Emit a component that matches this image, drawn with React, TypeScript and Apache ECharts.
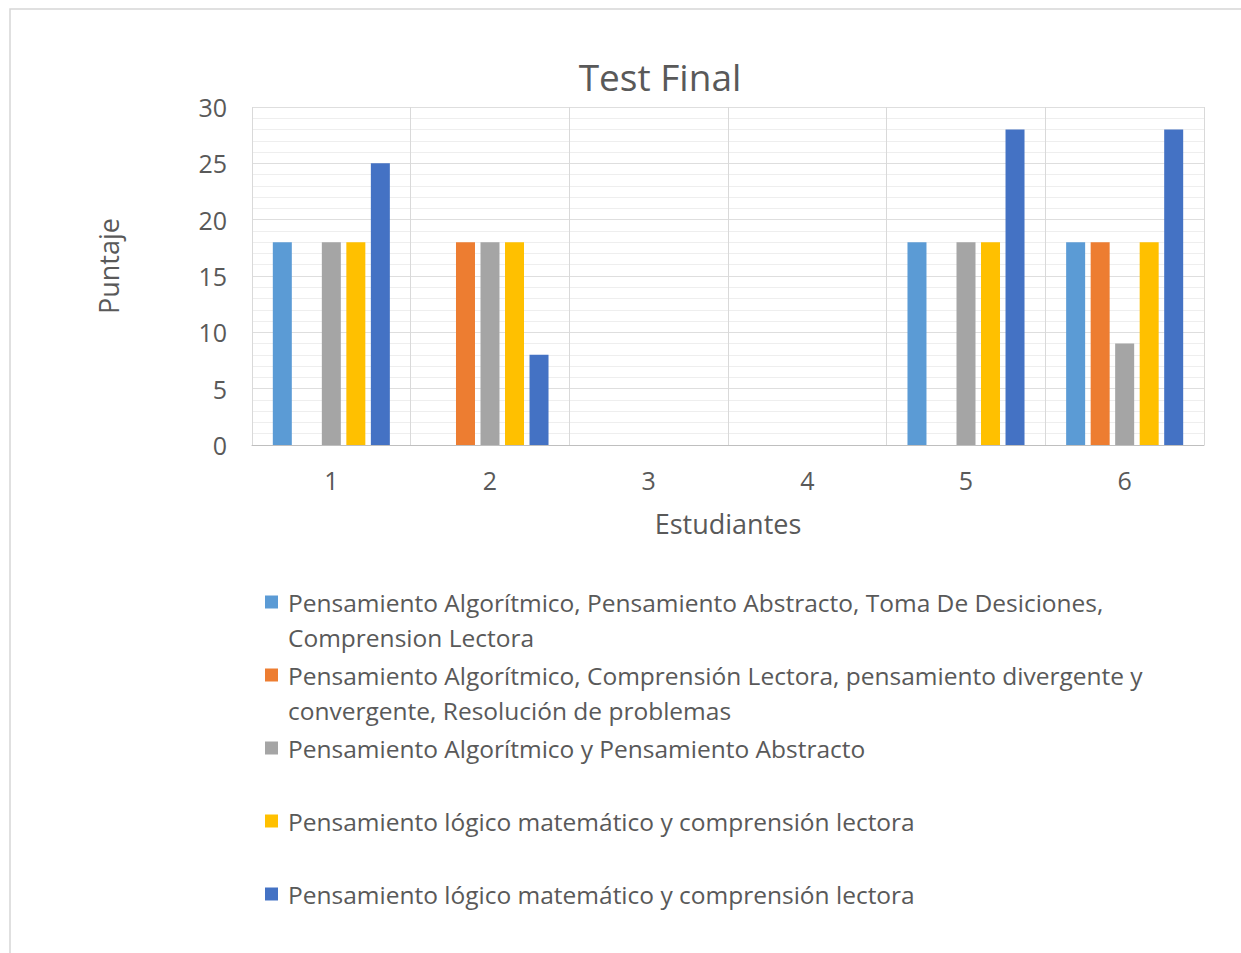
import React, { useEffect, useRef } from "react";
import * as echarts from "echarts";

const categories = ["1", "2", "3", "4", "5", "6"];
const seriesKeys = ["s1", "s2", "s3", "s4", "s5"];
const seriesLabels = [
  "Pensamiento Algorítmico, Pensamiento Abstracto, Toma De Desiciones,\nComprension Lectora",
  "Pensamiento Algorítmico, Comprensión Lectora, pensamiento divergente y\nconvergente, Resolución de problemas",
  "Pensamiento Algorítmico y Pensamiento Abstracto",
  "Pensamiento lógico matemático y comprensión lectora",
  "Pensamiento lógico matemático y comprensión lectora",
];
const seriesColors = ["#5B9BD5", "#ED7D31", "#A5A5A5", "#FFC000", "#4472C4"];
const s1Values = [18, 0, 0, 0, 18, 18];
const s2Values = [0, 18, 0, 0, 0, 18];
const s3Values = [18, 18, 0, 0, 18, 9];
const s4Values = [18, 18, 0, 0, 18, 18];
const s5Values = [25, 8, 0, 0, 28, 28];
const seriesValues = [s1Values, s2Values, s3Values, s4Values, s5Values];
const legendTops = [549.5, 622.5, 730.5, 803.5, 876.5];

const FONT = "'Open Sans', sans-serif";
const TEXT = "#595959";

export default function App() {
  const ref = useRef<HTMLDivElement>(null);
  useEffect(() => {
    if (!ref.current) return;
    const chart = echarts.init(ref.current, undefined, { renderer: "svg" });
    const legends = seriesKeys.map((k, i) => {
      const twoLines = seriesLabels[i].includes("\n");
      return {
        data: [k],
        left: 265,
        top: legendTops[i],
        padding: 0,
        orient: "vertical",
        icon: "rect",
        itemWidth: 13,
        itemHeight: 13,
        selectedMode: false,
        formatter: () => (twoLines ? "\n" + seriesLabels[i] : seriesLabels[i]),
        textStyle: {
          fontFamily: FONT,
          fontSize: 24.5,
          color: TEXT,
          lineHeight: 35,
          padding: [0, 0, 0, 5],
        },
      };
    });
    chart.setOption({
      animation: false,
      backgroundColor: "#ffffff",
      textStyle: { fontFamily: FONT },
      title: {
        text: "Test Final",
        left: 655,
        top: 53,
        textAlign: "center",
        textStyle: { fontFamily: FONT, fontSize: 37, fontWeight: "normal", color: TEXT },
      },
      legend: legends,
      grid: { left: 252, right: 37, top: 107, bottom: 508, containLabel: false },
      xAxis: {
        type: "category",
        data: categories,
        name: "Estudiantes",
        nameLocation: "middle",
        nameGap: 65,
        nameTextStyle: { fontFamily: FONT, fontSize: 27, color: TEXT },
        axisLine: { show: true, lineStyle: { color: "#bfbfbf", width: 1 } },
        axisTick: { show: false },
        axisLabel: { fontFamily: FONT, fontSize: 25, color: TEXT, margin: 22 },
        splitLine: { show: true, lineStyle: { color: "#d9d9d9", width: 1 } },
      },
      yAxis: {
        type: "value",
        min: 0,
        max: 30,
        interval: 5,
        name: "Puntaje",
        nameLocation: "middle",
        nameGap: 130,
        nameTextStyle: { fontFamily: FONT, fontSize: 27, color: TEXT, padding: [0, 0, 0, 20] },
        axisLine: { show: false },
        axisTick: { show: false },
        axisLabel: { fontFamily: FONT, fontSize: 25, color: TEXT, margin: 25 },
        splitLine: { show: true, lineStyle: { color: "#dedede", width: 1 } },
        minorTick: { show: false, splitNumber: 5 },
        minorSplitLine: { show: true, lineStyle: { color: "#eeeeee", width: 1 } },
      },
      series: seriesKeys.map((k, i) => ({
        name: k,
        type: "bar",
        data: seriesValues[i],
        barWidth: 19,
        barGap: "29%",
        itemStyle: { color: seriesColors[i] },
      })),
      graphic: [
        {
          type: "rect",
          shape: { x: 10, y: 9, width: 1400, height: 1100 },
          style: { fill: "none", stroke: "#d6d6d6", lineWidth: 1.5 },
          silent: true,
        },
      ],
    });
    return () => chart.dispose();
  }, []);
  return (
    <div
      ref={ref}
      style={{ position: "fixed", left: 0, top: 0, width: 1241, height: 953, background: "#fff" }}
    />
  );
}
